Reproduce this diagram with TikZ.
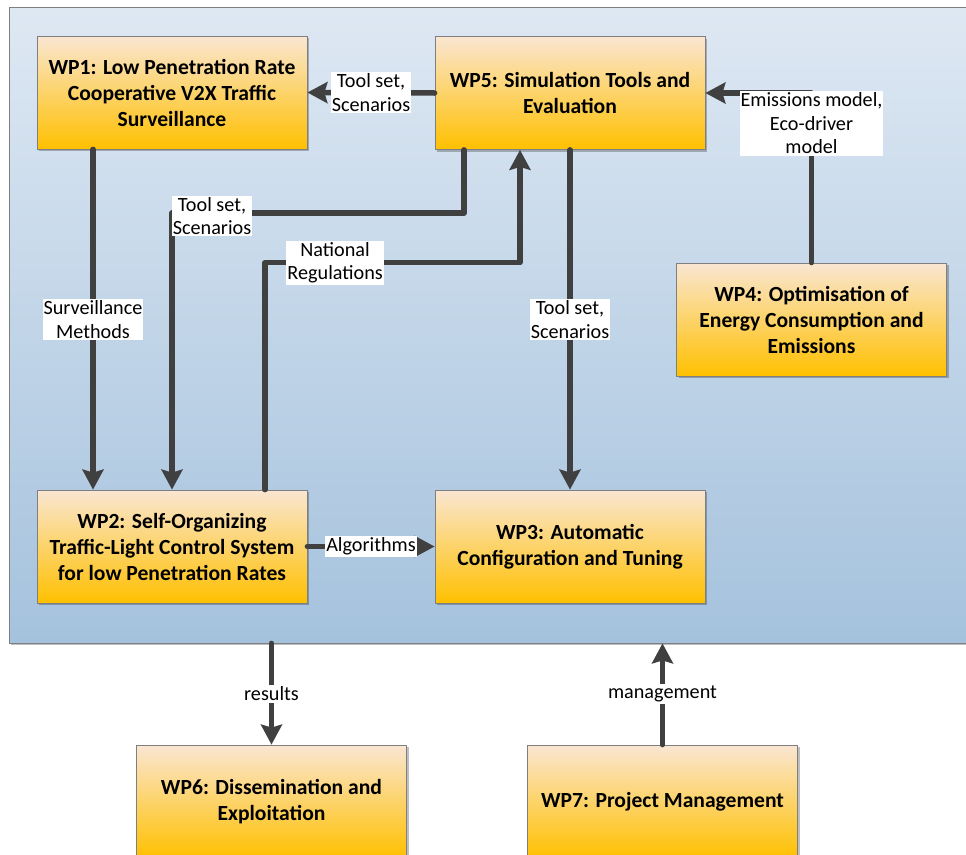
\documentclass[tikz,border=0pt]{standalone}
\usepackage{fontspec}
\setmainfont{Carlito}
\usetikzlibrary{arrows.meta,shadows}
\definecolor{peach}{RGB}{250,230,210}
\definecolor{gold}{RGB}{255,192,0}
\definecolor{bgtop}{RGB}{222,232,243}
\definecolor{bgbot}{RGB}{165,194,221}
\definecolor{lineclr}{RGB}{64,64,64}
\definecolor{boxedge}{RGB}{127,127,127}
\begin{document}
\begin{tikzpicture}[x=1pt,y=-1pt,
 wpbox/.style={draw=boxedge, line width=0.8pt, top color=peach, bottom color=gold,
   minimum width=270pt, minimum height=113pt, align=center, inner sep=0pt,
   font=\fontsize{21.6}{26}\selectfont\bfseries,
   drop shadow={shadow xshift=2pt, shadow yshift=-2pt, opacity=0.25, fill=black}},
 bgbox/.style={draw=boxedge, line width=0.8pt, top color=bgtop, bottom color=bgbot,
   minimum width=966pt, minimum height=636pt, inner sep=0pt,
   drop shadow={shadow xshift=2pt, shadow yshift=-2pt, opacity=0.25, fill=black}},
 conn/.style={draw=lineclr, line width=5.5pt, line cap=round, line join=round,
   -{Stealth[length=20pt,width=21pt,inset=3pt]}},
 lbl/.style={fill=white, inner xsep=1pt, inner ysep=1.5pt, align=center, text=black,
   font=\fontsize{20.2}{23.5}\selectfont}]
\useasboundingbox (0,0) rectangle (966,854);
\fill[white] (0,0) rectangle (966,854);
\node[bgbox] (bg) at (492,325) {};
\node[wpbox] (wp1) at (172,92.5) {WP1: Low Penetration Rate\\Cooperative V2X Traffic\\Surveillance};
\node[wpbox] (wp5) at (570,93) {WP5: Simulation Tools and\\Evaluation};
\node[wpbox] (wp4) at (811.5,319.5) {WP4: Optimisation of\\Energy Consumption and\\Emissions};
\node[wpbox] (wp2) at (172,546.5) {WP2: Self-Organizing\\Traffic-Light Control System\\for low Penetration Rates};
\node[wpbox] (wp3) at (570,546.5) {WP3: Automatic\\Configuration and Tuning};
\node[wpbox] (wp6) at (271.5,801.5) {WP6: Dissemination and\\Exploitation};
\node[wpbox] (wp7) at (662.5,801.5) {WP7: Project Management};
\coordinate (n5) at ([xshift=-50pt]wp5.south);
% connectors
\draw[conn] (wp5.west) -- node[lbl]{Tool set,\\Scenarios} (wp1.east);
\draw[conn] (wp4.north) -- node[lbl,pos=0.82]{Emissions model,\\Eco-driver\\model} (wp4.north |- wp5.east) -- (wp5.east);
\draw[conn] ([xshift=-79pt]wp1.south) -- node[lbl]{Surveillance\\Methods} ([xshift=-79pt]wp2.north);
\draw[conn] ([xshift=-106pt]wp5.south) -- ++(0,63) coordinate (c1) -| (wp2.north);
\node[lbl] (l1) at ([xshift=40pt,yshift=-3pt]c1 -| wp2.north) {Tool set,\\Scenarios};
\draw[conn] ([xshift=93pt]wp2.north) -- ++(0,-227) coordinate (c2) -- node[lbl,pos=0.275]{National\\Regulations} (c2 -| n5) -- (n5);
\draw[conn] (wp5.south) -- node[lbl]{Tool set,\\Scenarios} (wp3.north);
\draw[conn] (wp2.east) -- node[lbl]{Algorithms} (wp3.west);
\draw[conn] (bg.south -| wp6.north) -- node[lbl]{results} (wp6.north);
\draw[conn] (wp7.north) -- node[lbl]{management} (bg.south -| wp7.north);
\end{tikzpicture}
\end{document}
